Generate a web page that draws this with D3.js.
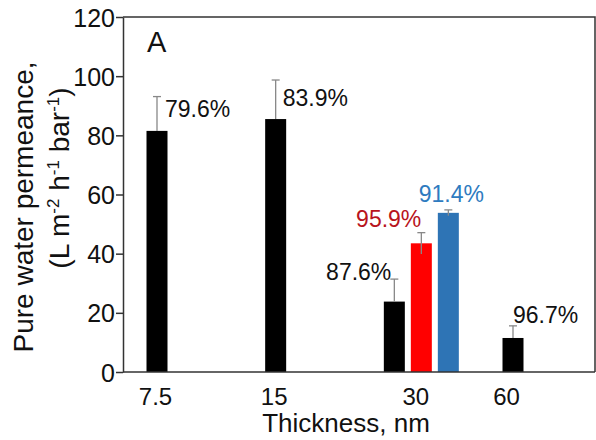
<!DOCTYPE html>
<html>
<head>
<meta charset="utf-8">
<script src="https://cdn.jsdelivr.net/npm/d3@7"></script>
<style>
  body { margin: 0; background: #fff; }
  text { font-family: Arial, "Liberation Sans", sans-serif; fill: #111; }
</style>
</head>
<body>
<div id="chart"></div>
<script>
// Data
var thickness = ["7.5", "15", "30", "60"];
var permeance = [81.5, 85.5, 23.8, 11.5];
var permErr = [11.6, 13.2, 7.6, 4.1];
var rejection = ["79.6%", "83.9%", "87.6%", "96.7%"];

// extra 30 nm membranes (red, blue)
var extraPerm = [43.5, 53.8];
var extraErr = [3.6, 1.0];
var extraRej = ["95.9%", "91.4%"];
var extraColor = ["#ff0000", "#2e74b5"];
var extraLabelColor = ["#b8141c", "#2e7bc0"];

var yTicks = [0, 20, 40, 60, 80, 100, 120];

// Chart Params
var svgWidth = 596;
var svgHeight = 440;
var margin = { top: 17, right: 1, bottom: 68, left: 123 };
var width = svgWidth - margin.left - margin.right;
var height = svgHeight - margin.top - margin.bottom;

var svg = d3.select("#chart")
  .append("svg")
  .attr("width", svgWidth)
  .attr("height", svgHeight);

var chartGroup = svg.append("g")
  .attr("transform", `translate(${margin.left}, ${margin.top})`);

// scales
var x = d3.scalePoint()
  .domain(thickness)
  .range([34, 390]);

var y = d3.scaleLinear()
  .domain([0, 120])
  .range([height, 0]);

var barW = 21;
var extraStep = 27;

// frame (top + right)
chartGroup.append("path")
  .attr("d", `M0,0H${width}V${height}`)
  .attr("fill", "none")
  .attr("stroke", "#333")
  .attr("stroke-width", 1.5);

// black bars + the two extra 30 nm bars
var bars = thickness.map(function(t, i) {
  return { cx: x(t), v: permeance[i], e: permErr[i], label: rejection[i], fill: "#000", color: "#111", full: false };
});
extraPerm.forEach(function(v, i) {
  bars.push({ cx: x("30") + extraStep * (i + 1), v: v, e: extraErr[i], label: extraRej[i],
    fill: extraColor[i], color: extraLabelColor[i], full: true });
});

chartGroup.selectAll("rect.bar")
  .data(bars)
  .enter()
  .append("rect")
  .attr("class", "bar")
  .attr("x", d => d.cx - barW / 2)
  .attr("y", d => y(d.v))
  .attr("width", barW)
  .attr("height", d => height - y(d.v))
  .attr("fill", d => d.fill);

// error bars (lower half only shows on the coloured bars)
var errG = chartGroup.selectAll("g.err")
  .data(bars)
  .enter()
  .append("g")
  .attr("class", "err")
  .attr("stroke", "#888")
  .attr("stroke-width", 1.3);

errG.append("line")
  .attr("x1", d => d.cx).attr("x2", d => d.cx)
  .attr("y1", d => d.full ? y(d.v - d.e) : y(d.v)).attr("y2", d => y(d.v + d.e));
errG.append("line")
  .attr("x1", d => d.cx - 4).attr("x2", d => d.cx + 4)
  .attr("y1", d => y(d.v + d.e)).attr("y2", d => y(d.v + d.e));

// rejection labels: anchor, dx, dy from the error bar top
var labelPlace = [
  ["start", 8, 20], ["start", 7, 26], ["end", -3, 1], ["start", 0, -3],
  ["end", 0, -6], ["middle", 3, -8]
];
chartGroup.selectAll("text.rej")
  .data(bars)
  .enter()
  .append("text")
  .attr("class", "rej")
  .attr("text-anchor", (d, i) => labelPlace[i][0])
  .attr("x", (d, i) => d.cx + labelPlace[i][1])
  .attr("y", (d, i) => y(d.v + d.e) + labelPlace[i][2])
  .style("font-size", "23px")
  .style("fill", d => d.color)
  .text(d => d.label);

// y axis
var yAxis = chartGroup.append("g")
  .call(d3.axisLeft(y).tickValues(yTicks).tickSize(7).tickPadding(1).tickSizeOuter(0));
yAxis.select(".domain").attr("stroke", "#333").attr("stroke-width", 1.5);
yAxis.selectAll(".tick line").attr("stroke", "#333").attr("stroke-width", 1.5);
yAxis.selectAll(".tick text")
  .attr("dy", "0.36em")
  .style("font-size", "25px")
  .style("font-family", "Arial, 'Liberation Sans', sans-serif");

// x axis
var xAxis = chartGroup.append("g")
  .attr("transform", `translate(0, ${height})`)
  .call(d3.axisBottom(x).tickSize(0).tickPadding(16).tickSizeOuter(0));
xAxis.select(".domain").attr("d", `M0,0H${width}`).attr("stroke", "#333").attr("stroke-width", 1.5);
xAxis.selectAll(".tick text")
  .style("font-size", "24px")
  .style("font-family", "Arial, 'Liberation Sans', sans-serif")
  .attr("dx", d => d === "30" ? 21 : (d === "60" ? -7 : -2));

// panel letter
chartGroup.append("text")
  .attr("x", 24)
  .attr("y", 35)
  .style("font-size", "29px")
  .text("A");

// axis titles
svg.append("text")
  .attr("text-anchor", "middle")
  .attr("x", 346)
  .attr("y", 432)
  .style("font-size", "26px")
  .text("Thickness, nm");

svg.append("text")
  .attr("text-anchor", "middle")
  .attr("transform", "translate(33, 207)rotate(-90)")
  .style("font-size", "28px")
  .text("Pure water permeance,");

var t2 = svg.append("text")
  .attr("text-anchor", "middle")
  .attr("transform", "translate(69, 178)rotate(-90)")
  .style("font-size", "28px");
t2.append("tspan").text("(L m");
t2.append("tspan").attr("dy", -10).style("font-size", "17px").text("-2");
t2.append("tspan").attr("dy", 10).text(" h");
t2.append("tspan").attr("dy", -10).style("font-size", "17px").text("-1");
t2.append("tspan").attr("dy", 10).text(" bar");
t2.append("tspan").attr("dy", -10).style("font-size", "17px").text("-1");
t2.append("tspan").attr("dy", 10).text(")");
</script>
</body>
</html>
